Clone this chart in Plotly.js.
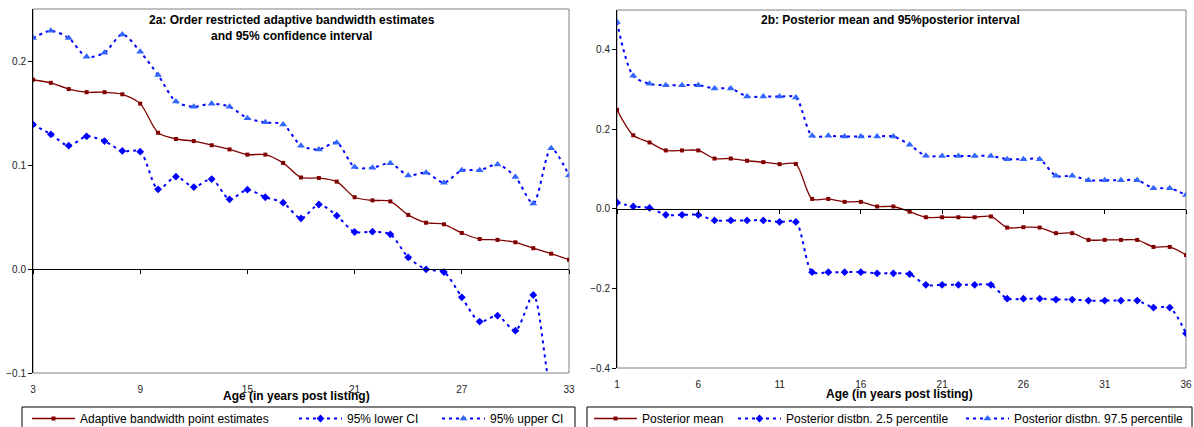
<!DOCTYPE html>
<html><head><meta charset="utf-8">
<script src="https://cdn.plot.ly/plotly-3.0.1.min.js"></script>
<style>html,body{margin:0;padding:0;background:#fff}#chart{width:1194px;height:427px}</style>
</head><body><div id="chart"></div>
<script>
// Panel 2a data
const ageA = [3,4,5,6,7,8,9,10,11,12,13,14,15,16,17,18,19,20,21,22,23,24,25,26,27,28,29,30,31,32,33];
const pointEst = [0.182,0.179,0.173,0.170,0.170,0.168,0.159,0.131,0.125,0.123,0.119,0.115,0.110,0.110,0.102,0.088,0.0875,0.084,0.069,0.066,0.065,0.052,0.0445,0.043,0.0346,0.0288,0.028,0.0257,0.020,0.0147,0.009];
const lowerCI = [0.139,0.1295,0.1186,0.1276,0.123,0.1135,0.1128,0.0766,0.0888,0.0788,0.0865,0.067,0.0763,0.069,0.0638,0.0487,0.062,0.0513,0.0356,0.0359,0.0333,0.0112,-0.0003,-0.003,-0.0272,-0.0506,-0.0449,-0.0593,-0.025,-0.12,-0.16];
const upperCI = [0.222,0.229,0.222,0.204,0.208,0.2256,0.209,0.1865,0.161,0.156,0.159,0.156,0.145,0.141,0.139,0.1186,0.115,0.1215,0.098,0.0974,0.1016,0.090,0.0926,0.083,0.0949,0.0949,0.1006,0.0885,0.063,0.116,0.090];

// Panel 2b data
const ageB = [1,2,3,4,5,6,7,8,9,10,11,12,13,14,15,16,17,18,19,20,21,22,23,24,25,26,27,28,29,30,31,32,33,34,35,36];
const postMean = [0.249,0.185,0.167,0.147,0.147,0.147,0.1266,0.1266,0.121,0.1175,0.1124,0.113,0.025,0.025,0.0176,0.0176,0.006,0.006,-0.007,-0.021,-0.021,-0.021,-0.021,-0.019,-0.047,-0.046,-0.047,-0.061,-0.061,-0.078,-0.078,-0.078,-0.078,-0.0956,-0.0956,-0.1157];
const post025 = [0.016,0.006,0.0025,-0.015,-0.015,-0.015,-0.029,-0.029,-0.029,-0.029,-0.0327,-0.0327,-0.159,-0.159,-0.159,-0.159,-0.162,-0.162,-0.164,-0.191,-0.191,-0.191,-0.191,-0.191,-0.2257,-0.2257,-0.2257,-0.228,-0.228,-0.2306,-0.2306,-0.2306,-0.2306,-0.248,-0.248,-0.313];
const post975 = [0.470,0.3346,0.3145,0.311,0.311,0.311,0.3027,0.3027,0.2826,0.2826,0.2826,0.280,0.1836,0.1836,0.182,0.182,0.182,0.182,0.161,0.1333,0.133,0.133,0.133,0.133,0.125,0.125,0.125,0.083,0.083,0.072,0.072,0.072,0.072,0.052,0.052,0.035];

const namesA = ['Adaptive bandwidth point estimates','95% lower CI','95% upper CI'];
const namesB = ['Posterior mean','Posterior distbn. 2.5 percentile','Posterior distbn. 97.5 percentile'];
const titleA = '2a: Order restricted adaptive bandwidth estimates<br>and 95% confidence interval';
const titleB = '2b: Posterior mean and 95%posterior interval';
const xTitle = 'Age (in years post listing)';

const W = 1194, H = 427;
const rangeA = [-0.1, 0.25], rangeB = [-0.4, 0.5];
const xRangeA = [3, 33], xRangeB = [1, 36];
const domXA = [33/W, 569/W], domYA = [(H-373)/H, (H-9)/H];
const domXB = [617/W, 1186/W], domYB = [(H-368)/H, (H-10)/H];
function zeroPos(dom, r){ return dom[0] + (0 - r[0])/(r[1]-r[0])*(dom[1]-dom[0]); }

const RED = '#800000', BLUE = '#0000FF', LBLUE = '#3366FF';
const FONT = 'Arial, Liberation Sans, sans-serif';
const DOTS = '3px,4px';

function meanTrace(x, y, name, xa, ya, lg){
  return {x, y, name, xaxis:xa, yaxis:ya, legend:lg, type:'scatter', mode:'lines+markers',
    line:{color:RED, width:1.3, shape:'spline', smoothing:0.8},
    marker:{symbol:'square', size:4, color:RED}};
}
function lowTrace(x, y, name, xa, ya, lg){
  return {x, y, name, xaxis:xa, yaxis:ya, legend:lg, type:'scatter', mode:'lines+markers',
    line:{color:BLUE, width:2, dash:DOTS, shape:'spline', smoothing:0.8},
    marker:{symbol:'diamond', size:6, color:BLUE}};
}
function upTrace(x, y, name, xa, ya, lg){
  return {x, y, name, xaxis:xa, yaxis:ya, legend:lg, type:'scatter', mode:'lines+markers',
    line:{color:BLUE, width:2, dash:DOTS, shape:'spline', smoothing:0.8},
    marker:{symbol:'triangle-up', size:7, color:LBLUE}};
}

// mean traces live on the axis that crosses at zero (x3/x4); CI traces on the labelled bottom axes
const data = [
  lowTrace(ageA, lowerCI, namesA[1], 'x', 'y', 'legend2'),
  upTrace(ageA, upperCI, namesA[2], 'x', 'y', 'legend3'),
  meanTrace(ageA, pointEst, namesA[0], 'x3', 'y', 'legend'),
  lowTrace(ageB, post025, namesB[1], 'x2', 'y2', 'legend5'),
  upTrace(ageB, post975, namesB[2], 'x2', 'y2', 'legend6'),
  meanTrace(ageB, postMean, namesB[0], 'x4', 'y2', 'legend4')
];

const tickFont = {family:FONT, size:10, color:'#222'};
function labelAxis(dom, anchor, rng, t0, dt, gap){
  return {domain:dom, anchor, range:rng, tickmode:'linear', tick0:t0, dtick:dt,
    showgrid:false, zeroline:false, showline:false,
    ticks:'outside', ticklen:gap, tickcolor:'rgba(0,0,0,0)', tickfont:tickFont};
}
function zeroAxis(over, yDom, yr, rng, t0, dt){
  return {overlaying:over, anchor:'free', position:zeroPos(yDom, yr), range:rng,
    tickmode:'linear', tick0:t0, dtick:dt, showgrid:false, zeroline:false,
    showline:true, linecolor:'#000', linewidth:1, ticks:'outside', ticklen:4, tickcolor:'#000',
    showticklabels:false};
}
function yAxis(dom, anchor, rng, dt){
  return {domain:dom, anchor, range:rng, tickmode:'linear', tick0:0, dtick:dt, tickformat:'.1f',
    showgrid:false, zeroline:false, showline:true, linecolor:'#000', linewidth:1,
    ticks:'outside', ticklen:4, tickcolor:'#000', tickfont:tickFont};
}

const legendTop = (H-404)/H, boxTop = (H-407)/H;
function lg(xpx){
  return {orientation:'h', xanchor:'left', yanchor:'top', x:xpx/W, y:legendTop,
    borderwidth:0, bgcolor:'rgba(0,0,0,0)', itemwidth:43,
    font:{family:FONT, size:12, color:'#000'}};
}

const layout = {
  width:W, height:H, margin:{l:0, r:0, t:0, b:0, autoexpand:false},
  paper_bgcolor:'#fff', plot_bgcolor:'#fff', showlegend:true,
  xaxis: labelAxis(domXA, 'y', xRangeA, 3, 6, 7),
  yaxis: yAxis(domYA, 'x', rangeA, 0.1),
  xaxis2: labelAxis(domXB, 'y2', xRangeB, 1, 5, 7),
  yaxis2: yAxis(domYB, 'x2', rangeB, 0.2),
  xaxis3: zeroAxis('x', domYA, rangeA, xRangeA, 3, 6),
  xaxis4: zeroAxis('x2', domYB, rangeB, xRangeB, 1, 5),
  legend: lg(27), legend2: lg(294), legend3: lg(437),
  legend4: lg(589), legend5: lg(733), legend6: lg(961),
  shapes: [
    {type:'rect', xref:'x domain', yref:'y domain', x0:0, x1:1, y0:0, y1:1, line:{color:'#808080', width:1}, layer:'below'},
    {type:'rect', xref:'x2 domain', yref:'y2 domain', x0:0, x1:1, y0:0, y1:1, line:{color:'#808080', width:1}, layer:'below'},
    {type:'rect', xref:'paper', yref:'paper', x0:22/W, x1:575/W, y0:-0.05, y1:boxTop, line:{color:'#000', width:1}},
    {type:'rect', xref:'paper', yref:'paper', x0:587/W, x1:1192/W, y0:-0.05, y1:boxTop, line:{color:'#000', width:1}}
  ],
  annotations: [
    {text:'<b>'+titleA.replace('<br>','</b><br><b>')+'</b>', xref:'x domain', yref:'paper', x:0.483, y:1-28.5/H, xanchor:'center', yanchor:'middle', showarrow:false, font:{family:FONT, size:12, color:'#000'}},
    {text:'<b>'+titleB+'</b>', xref:'x2 domain', yref:'paper', x:0.48, y:1-20/H, xanchor:'center', yanchor:'middle', showarrow:false, font:{family:FONT, size:12, color:'#000'}},
    {text:'<b>'+xTitle+'</b>', xref:'x domain', yref:'paper', x:0.4925, y:(H-396)/H, xanchor:'center', yanchor:'middle', showarrow:false, font:{family:FONT, size:12, color:'#000'}},
    {text:'<b>'+xTitle+'</b>', xref:'x2 domain', yref:'paper', x:0.497, y:(H-394)/H, xanchor:'center', yanchor:'middle', showarrow:false, font:{family:FONT, size:12, color:'#000'}}
  ]
};

Plotly.newPlot('chart', data, layout, {staticPlot:true, displayModeBar:false});
</script></body></html>
